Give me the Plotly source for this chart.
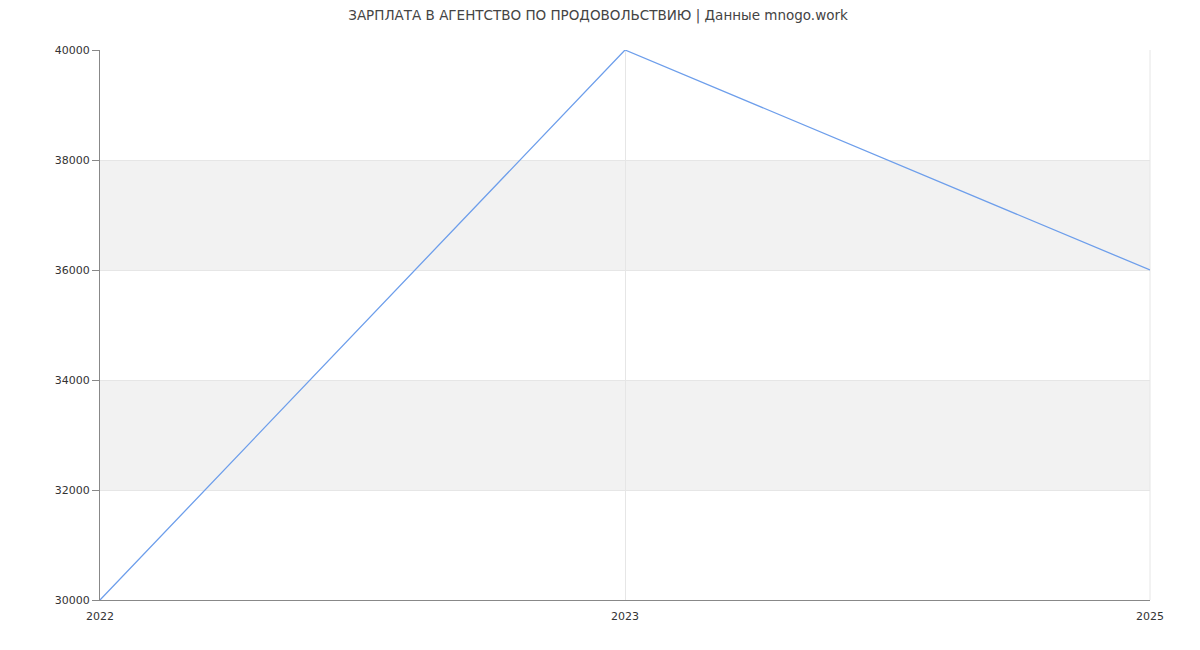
import plotly.graph_objects as go

years = ["2022", "2023", "2025"]
salaries = [30000, 40000, 36000]
y_ticks = [30000, 32000, 34000, 36000, 38000, 40000]
y_tick_labels = ["30000", "32000", "34000", "36000", "38000", "40000"]
bands = [(32000, 34000), (36000, 38000)]
title_text = "ЗАРПЛАТА В АГЕНТСТВО ПО ПРОДОВОЛЬСТВИЮ | Данные mnogo.work"

fig = go.Figure()
fig.add_trace(go.Scatter(
    x=years, y=salaries, mode="lines",
    line=dict(color="#6d9eeb", width=1.3),
    hoverinfo="x+y", showlegend=False,
))

for lo, hi in bands:
    fig.add_shape(type="rect", xref="paper", yref="y", x0=0, x1=1, y0=lo, y1=hi,
                  fillcolor="#f2f2f2", line=dict(width=0), layer="below")

fig.update_layout(
    width=1200, height=650,
    margin=dict(l=92, r=58, t=42, b=58),
    paper_bgcolor="white", plot_bgcolor="white",
    font=dict(family="DejaVu Sans", size=11, color="#333333"),
    title=dict(text=title_text, x=0.4917, xanchor="center", y=0.9885, yanchor="middle",
               font=dict(family="DejaVu Sans", size=13.5, color="#444444")),
    xaxis=dict(
        type="category", categoryorder="array", categoryarray=years,
        range=[0, 2], showgrid=True, gridcolor="#e6e6e6", gridwidth=1,
        showline=True, linecolor="#888888", linewidth=1,
        ticks="", ticklabelstandoff=6,
        tickfont=dict(size=11, color="#333333"), zeroline=False,
        mirror=False,
    ),
    yaxis=dict(
        range=[30000, 40000], tickvals=y_ticks, ticktext=y_tick_labels,
        showgrid=True, gridcolor="#e6e6e6", gridwidth=1,
        showline=True, linecolor="#888888", linewidth=1,
        ticks="outside", ticklen=7, tickcolor="#888888",
        tickfont=dict(size=11, color="#333333"), zeroline=False,
    ),
)
fig.add_shape(type="line", xref="paper", yref="paper", x0=1, x1=1, y0=0, y1=1,
              line=dict(color="#e6e6e6", width=1), layer="below")

fig.write_html("out.html")
